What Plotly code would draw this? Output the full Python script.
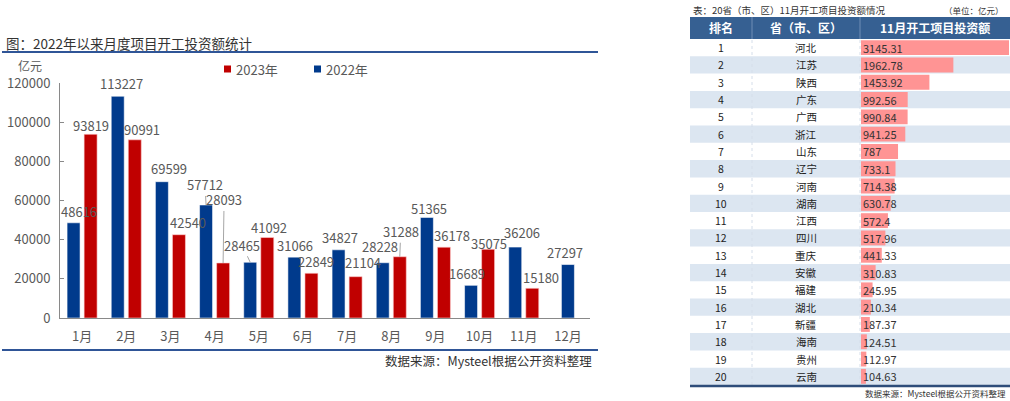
import plotly.graph_objects as go

# ---------------- data ----------------
months = ["1月", "2月", "3月", "4月", "5月", "6月", "7月", "8月", "9月", "10月", "11月", "12月"]
invest_2022 = [48616, 113227, 69599, 57712, 28465, 31066, 34827, 28228, 51365, 16689, 36206, 27297]
invest_2023 = [93819, 90991, 42540, 28093, 41092, 22849, 21104, 31288, 36178, 35075, 15180, None]
y_ticks = [0, 20000, 40000, 60000, 80000, 100000, 120000]

ranks = list(range(1, 21))
provinces = ["河北", "江苏", "陕西", "广东", "广西", "浙江", "山东", "辽宁", "河南", "湖南",
             "江西", "四川", "重庆", "安徽", "福建", "湖北", "新疆", "海南", "贵州", "云南"]
nov_invest = [3145.31, 1962.78, 1453.92, 992.56, 990.84, 941.25, 787, 733.1, 714.38, 630.78,
              572.4, 517.96, 441.33, 310.83, 245.95, 210.34, 187.37, 124.51, 112.97, 104.63]

# ---------------- style ----------------
W, H = 1010, 401
FONT = "Noto Sans CJK SC"
BLUE = "#003A8C"
RED = "#C00000"
GRAY = "#595959"
AXIS = "#898989"
LINE_BLUE = "#2F5597"
HEAD_BLUE = "#366092"
ROW_BLUE = "#DCE6F1"
DATABAR = "#FF9494"

def px(x):
    return x / W

def py(y):
    return 1 - y / H

PLOT_L, PLOT_R, PLOT_T, PLOT_B = 60, 590, 83, 318
BAR_W = 0.294
OFF_BLUE = -0.34
OFF_RED = 0.046
cat_px = (PLOT_R - PLOT_L) / len(months)

off_2022 = [OFF_BLUE if v is not None else -BAR_W / 2 for v in invest_2023]
off_2023 = [OFF_RED] * len(months)

# label offsets (px): horizontal shift, height of label centre above bar top
lab22_dx = [5, 4, 7, -1, -8, 1, 1, -3, 2, -4, 7, -3]
lab22_dy = [11, 13, 13, 20, 17, 12, 12, 16, 9, 12, 15, 12]
lab22_arrow = [False, False, False, True, True, False, False, False, False, False, False, False]
lab23_dx = [0, 7, 9, 1, 2, 5, 7, 1, 8, 1, 9, 0]
lab23_dy = [9, 10, 12, 63, 10, 12, 14, 25, 12, 6, 11, 0]
lab23_arrow = [False, False, False, True, False, False, False, True, False, False, False, False]

fig = go.Figure()

fig.add_trace(go.Bar(
    x=months, y=invest_2022, name="2022年", width=BAR_W, offset=off_2022,
    marker=dict(color=BLUE, line=dict(color="rgba(255,255,255,0.55)", width=1)),
    xaxis="x", yaxis="y", showlegend=False, hoverinfo="x+y",
))
fig.add_trace(go.Bar(
    x=months, y=invest_2023, name="2023年", width=BAR_W, offset=off_2023,
    marker=dict(color=RED, line=dict(color="rgba(255,210,210,0.6)", width=1)),
    xaxis="x", yaxis="y", showlegend=False, hoverinfo="x+y",
))

# table data bars
fig.add_trace(go.Bar(
    x=nov_invest, y=ranks, orientation="h", width=0.86,
    marker=dict(color=DATABAR, line=dict(width=0)),
    xaxis="x2", yaxis="y2", showlegend=False, hoverinfo="x",
))

annotations = []
shapes = []

# bar labels
def add_labels(values, offsets, dxs, dys, arrows):
    for i, v in enumerate(values):
        if v is None:
            continue
        centre = (offsets[i] + BAR_W / 2) * cat_px
        if arrows[i]:
            annotations.append(dict(
                x=months[i], y=v, xref="x", yref="y", xshift=centre,
                text=str(v), showarrow=True, arrowhead=0, arrowwidth=1,
                arrowcolor="#A6A6A6", ax=dxs[i], ay=-dys[i], standoff=0,
                font=dict(family=FONT, size=13, color=GRAY),
            ))
        else:
            annotations.append(dict(
                x=months[i], y=v, xref="x", yref="y",
                xshift=centre + dxs[i], yshift=dys[i],
                text=str(v), showarrow=False, yanchor="middle", xanchor="center",
                font=dict(family=FONT, size=13, color=GRAY),
            ))

add_labels(invest_2022, off_2022, lab22_dx, lab22_dy, lab22_arrow)
add_labels(invest_2023, off_2023, lab23_dx, lab23_dy, lab23_arrow)

# left chart texts
annotations += [
    dict(x=px(4), y=py(43), xref="paper", yref="paper", xanchor="left", yanchor="middle",
         text="图：2022年以来月度项目开工投资额统计", showarrow=False,
         font=dict(family=FONT, size=13.5, color="#333333")),
    dict(x=px(30), y=py(66), xref="paper", yref="paper", xanchor="center", yanchor="middle",
         text="亿元", showarrow=False, borderpad=0, font=dict(family=FONT, size=12, color=GRAY)),
    dict(x=px(234), y=py(69), xref="paper", yref="paper", xanchor="left", yanchor="middle",
         text="2023年", showarrow=False, font=dict(family=FONT, size=13, color=GRAY)),
    dict(x=px(324), y=py(69), xref="paper", yref="paper", xanchor="left", yanchor="middle",
         text="2022年", showarrow=False, font=dict(family=FONT, size=13, color=GRAY)),
    dict(x=px(594), y=py(360), xref="paper", yref="paper", xanchor="right", yanchor="middle",
         text="数据来源：Mysteel根据公开资料整理", showarrow=False,
         font=dict(family=FONT, size=12.5, color="#333333")),
]
shapes += [
    dict(type="rect", xref="paper", yref="paper", x0=px(224), x1=px(231), y0=py(65.5), y1=py(72.5),
         fillcolor=RED, line=dict(width=0)),
    dict(type="rect", xref="paper", yref="paper", x0=px(314), x1=px(321), y0=py(65.5), y1=py(72.5),
         fillcolor=BLUE, line=dict(width=0)),
    dict(type="line", xref="paper", yref="paper", x0=px(2), x1=px(598), y0=py(52), y1=py(52),
         line=dict(color=LINE_BLUE, width=2)),
    dict(type="line", xref="paper", yref="paper", x0=px(2), x1=px(598), y0=py(350), y1=py(350),
         line=dict(color=LINE_BLUE, width=2)),
]

# ---------------- table ----------------
T_L, T_R = 690, 1010
C1, C2 = 752, 860
HEAD_T, HEAD_B = 17, 39
ROWS_B = 385

annotations += [
    dict(x=px(691), y=py(10), xref="paper", yref="paper", xanchor="left", yanchor="middle",
         text="表：20省（市、区）11月开工项目投资额情况", showarrow=False,
         font=dict(family=FONT, size=9.5, color="#333333")),
    dict(x=px(1006), y=py(10), xref="paper", yref="paper", xanchor="right", yanchor="middle",
         text="（单位：亿元）", showarrow=False, font=dict(family=FONT, size=8.5, color="#333333")),
    dict(x=px(1008), y=py(393), xref="paper", yref="paper", xanchor="right", yanchor="middle",
         text="数据来源：Mysteel根据公开资料整理", showarrow=False,
         font=dict(family=FONT, size=8.5, color="#333333")),
]
for txt, cx in [("排名", (T_L + C1) / 2), ("省（市、区）", (C1 + C2) / 2), ("11月开工项目投资额", (C2 + T_R) / 2)]:
    annotations.append(dict(x=px(cx), y=py((HEAD_T + HEAD_B) / 2), xref="paper", yref="paper",
                            xanchor="center", yanchor="middle", text="<b>" + txt + "</b>",
                            showarrow=False, font=dict(family=FONT, size=12, color="white")))

shapes.append(dict(type="rect", xref="paper", yref="paper", x0=px(T_L), x1=px(T_R),
                   y0=py(HEAD_B), y1=py(HEAD_T), fillcolor=HEAD_BLUE, line=dict(width=0), layer="below"))
for r in ranks:
    if r % 2 == 0:
        shapes.append(dict(type="rect", xref="paper", yref="y2", x0=px(T_L), x1=px(T_R),
                           y0=r - 0.5, y1=r + 0.5, fillcolor=ROW_BLUE, line=dict(width=0), layer="below"))
for cx in (C1, C2):
    shapes.append(dict(type="line", xref="paper", yref="paper", x0=px(cx), x1=px(cx),
                       y0=py(HEAD_B), y1=py(HEAD_T), line=dict(color="#6F8DB5", width=1)))
    shapes.append(dict(type="line", xref="paper", yref="paper", x0=px(cx), x1=px(cx),
                       y0=py(ROWS_B), y1=py(HEAD_B), line=dict(color="#D5DEEA", width=1, dash="dot")))
shapes.append(dict(type="line", xref="paper", yref="paper", x0=px(T_L), x1=px(T_R),
                   y0=py(ROWS_B + 1), y1=py(ROWS_B + 1), line=dict(color="#2E4D7A", width=2.5)))

for r, p, v in zip(ranks, provinces, nov_invest):
    annotations.append(dict(x=px((T_L + C1) / 2), y=r, xref="paper", yref="y2", text=str(r),
                            showarrow=False, xanchor="center", yanchor="middle",
                            font=dict(family=FONT, size=10.5, color="#222222")))
    annotations.append(dict(x=px((C1 + C2) / 2), y=r, xref="paper", yref="y2", text=p,
                            showarrow=False, xanchor="center", yanchor="middle",
                            font=dict(family=FONT, size=10.5, color="#222222")))
    annotations.append(dict(x=0, y=r, xref="x2", yref="y2", text=f"{v:g}", xshift=0,
                            showarrow=False, xanchor="left", yanchor="middle",
                            font=dict(family=FONT, size=11, color="#333333")))

fig.update_layout(
    width=W, height=H, autosize=False,
    margin=dict(l=0, r=0, t=0, b=0, pad=0, autoexpand=False),
    paper_bgcolor="white", plot_bgcolor="rgba(0,0,0,0)",
    barmode="overlay",
    font=dict(family=FONT, color=GRAY),
    xaxis=dict(domain=[px(PLOT_L), px(PLOT_R)], anchor="y", type="category",
               range=[-0.5, len(months) - 0.5], showline=True, linecolor=AXIS, linewidth=1,
               ticks="", showgrid=False, zeroline=False, ticklabelstandoff=6, automargin=False,
               tickfont=dict(family=FONT, size=13, color=GRAY)),
    yaxis=dict(domain=[py(PLOT_B), py(PLOT_T)], anchor="x", range=[0, 120000],
               tickvals=y_ticks, tickformat="d", showline=True, linecolor=AXIS, linewidth=1,
               ticks="inside", ticklen=4, tickcolor=AXIS, showgrid=False, zeroline=False,
               ticklabelstandoff=6, automargin=False, tickfont=dict(family=FONT, size=13, color=GRAY)),
    xaxis2=dict(domain=[px(861), px(1009)], anchor="y2", range=[0, max(nov_invest)],
                visible=False, fixedrange=True, automargin=False),
    yaxis2=dict(domain=[py(ROWS_B), py(HEAD_B)], anchor="x2", range=[20.5, 0.5],
                visible=False, fixedrange=True, automargin=False),
    annotations=annotations,
    shapes=shapes,
    showlegend=False,
)

fig.write_html("out.html")
